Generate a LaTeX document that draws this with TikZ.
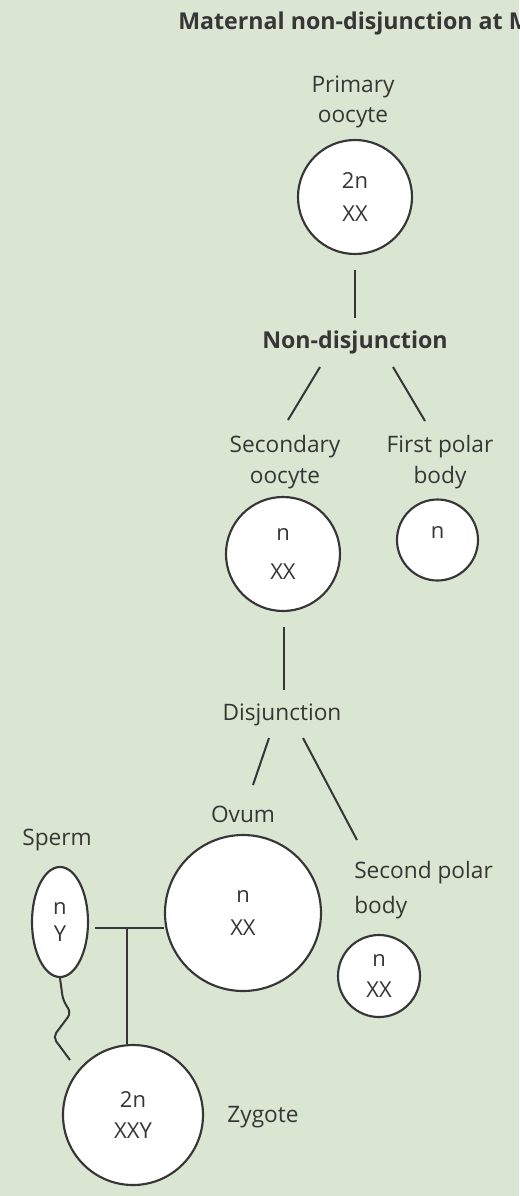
\documentclass[tikz,border=0pt]{standalone}
\usepackage{fontspec}
\setmainfont{Open Sans}
\usetikzlibrary{shapes.geometric}
\definecolor{bg}{HTML}{DAE6D2}
\definecolor{ink}{HTML}{363636}
\begin{document}
\begin{tikzpicture}[x=0.75pt,y=-0.75pt,
 cell/.style={circle,draw=ink,line width=1.6pt,fill=white,inner sep=0pt,align=center,font=\fontsize{16.5}{23}\selectfont,text=ink},
 lab/.style={align=center,font=\fontsize{17}{23}\selectfont,text=ink,inner sep=0pt},
 blab/.style={font=\bfseries\fontsize{17.4}{18}\selectfont,text=ink,inner sep=0pt},
 link/.style={draw=ink,line width=1.5pt}]
\fill[bg] (0,0) rectangle (519,1196);
\useasboundingbox (0,0) rectangle (519,1196);
% title
\node[blab,anchor=base west] (title) at (178,29) {Maternal non-disjunction at M};
% primary oocyte
\node[lab] (primlab) at (353,102) {Primary\\oocyte};
\node[cell,minimum size=85.5pt] (prim) at (355,197) {2n\\[2pt]XX};
\node[blab,anchor=base] (nd) at (355,348) {Non-disjunction};
% secondary oocyte & first polar body
\node[lab] (seclab) at (285,462) {Secondary\\oocyte};
\node[lab] (fpblab) at (440,462) {First polar\\body};
\node[cell,minimum size=85.5pt] (sec) at (283,554) {n\\[6pt]XX};
\node[cell,minimum size=60.75pt] (fpb) at (437.5,540) {};
\node[lab,font=\fontsize{16.5}{23}\selectfont] (fpbt) at (437.5,532) {n};
\node[lab,anchor=base] (dj) at (282,720) {Disjunction};
% ovum & second polar body
\node[lab,anchor=base] (ovlab) at (243,822) {Ovum};
\node[cell,minimum size=117pt] (ovum) at (243,913) {n\\[2pt]XX};
\node[lab,align=left,anchor=base west] (spblab) at (354,913) {Second polar\\[3pt]body};
\node[cell,minimum size=61.5pt] (spb) at (379,976) {n\\XX};
% sperm
\node[lab,anchor=base] (spermlab) at (57,845) {Sperm};
\node[ellipse,draw=ink,line width=1.6pt,fill=white,inner sep=0pt,minimum width=42pt,minimum height=82.5pt,align=center,font=\fontsize{16.5}{20}\selectfont,text=ink] (sperm) at (60,922) {n\\Y};
% zygote
\node[cell,minimum size=105pt] (zyg) at (133,1115) {2n\\XXY};
\node[lab,anchor=base] (zyglab) at (263,1122) {Zygote};
% connector coordinates
\coordinate (p1) at (355,270);
\coordinate (p2) at (355,318);
\coordinate (nd1) at (320,367);
\coordinate (nd2) at (288,420);
\coordinate (nd3) at (393,367);
\coordinate (nd4) at (425,421);
\coordinate (s1) at (284,627);
\coordinate (s2) at (284,690);
\coordinate (dj1) at (269,738);
\coordinate (dj2) at (253,785);
\coordinate (dj3) at (303,738);
\coordinate (dj4) at (357,840);
\coordinate (fa) at (95,928);
\coordinate (fj) at (127,928);
% connectors
\draw[link] (p1) -- (p2);
\draw[link] (nd1) -- (nd2);
\draw[link] (nd3) -- (nd4);
\draw[link] (s1) -- (s2);
\draw[link] (dj1) -- (dj2);
\draw[link] (dj3) -- (dj4);
\draw[link] (fa) -- (fa -| ovum.west);
\draw[link] (fj) -- (fj |- zyg.north);
% sperm tail
\draw[link,rounded corners=4pt] (sperm.south) -- (63,1000) -- (71,1013) -- (53,1037) -- (70,1060);
\end{tikzpicture}
\end{document}
